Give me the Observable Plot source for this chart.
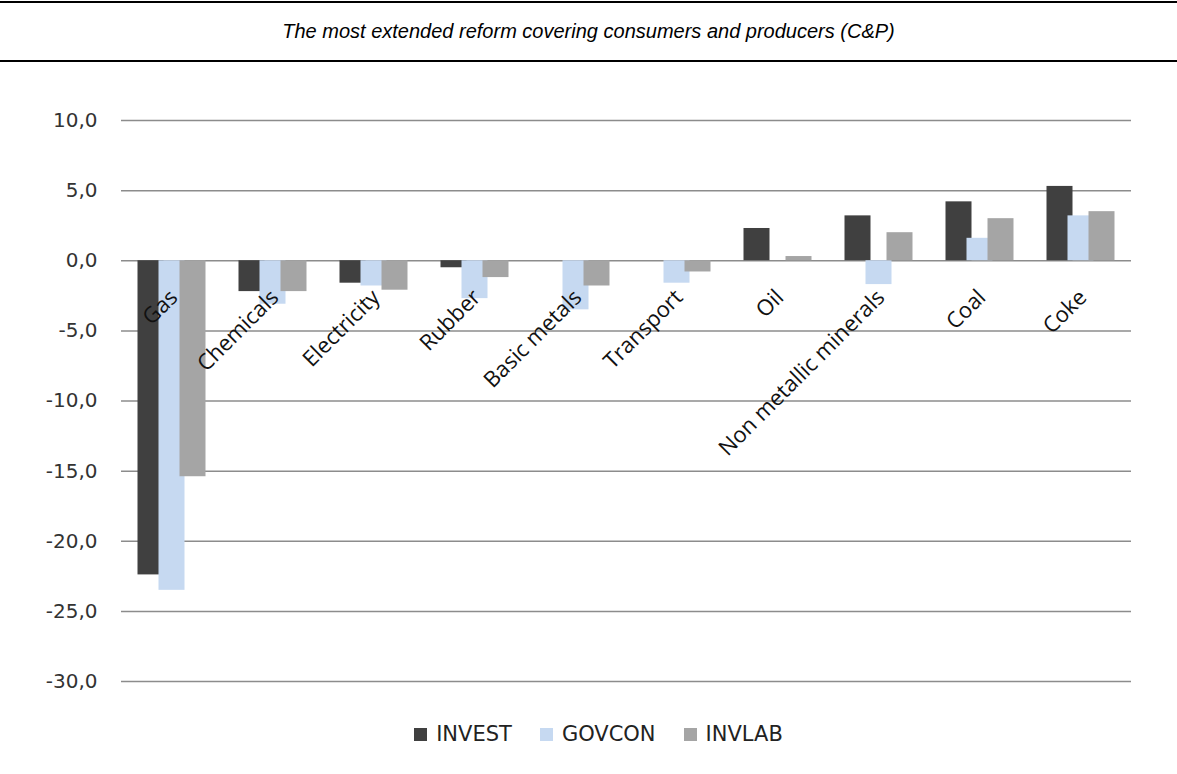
<!DOCTYPE html>
<html><head><meta charset="utf-8">
<script src="https://cdn.jsdelivr.net/npm/d3@7"></script>
<script src="https://cdn.jsdelivr.net/npm/@observablehq/plot@0.6"></script>
<style>
body{margin:0;background:#fff;width:1177px;height:774px;position:relative;overflow:hidden}
#title{position:absolute;left:0;top:1px;width:1177px;height:57px;border-top:2px solid #000;border-bottom:2px solid #000;font:italic 20px "Liberation Sans",Arial,sans-serif;text-align:center;line-height:57px;color:#000}
#chart{position:absolute;left:0;top:64px}
#legend{position:absolute;top:722px;left:0;width:1177px;box-sizing:border-box;padding-left:20px;text-align:center;font:21px "DejaVu Sans",sans-serif;color:#222;white-space:nowrap}
#legend span.item{display:inline-block;margin:0 14px}
#legend span.sw{display:inline-block;width:13px;height:13px;margin-right:9px;vertical-align:0px}
</style></head>
<body>
<div id="title">The most extended reform covering consumers and producers (C&amp;P)</div>
<div id="chart"></div>
<div id="legend"></div>
<script>
const categories = ["Gas","Chemicals","Electricity","Rubber","Basic metals","Transport","Oil","Non metallic minerals","Coal","Coke"];
const series = ["INVEST","GOVCON","INVLAB"];
const invest = [-22.4,-2.2,-1.6,-0.5,0,0,2.3,3.2,4.2,5.3];
const govcon = [-23.5,-3.1,-1.8,-2.7,-3.5,-1.6,0,-1.7,1.6,3.2];
const invlab = [-15.4,-2.2,-2.1,-1.2,-1.8,-0.8,0.3,2.0,3.0,3.5];
const colors = ["#404040","#c6d9f1","#a5a5a5"];
const yTicks = [10,5,0,-5,-10,-15,-20,-25,-30];

const values = [invest, govcon, invlab];
const rows = [];
categories.forEach((c, i) => series.forEach((s, j) => rows.push({category: c, series: s, value: values[j][i]})));

const chart = Plot.plot({
  width: 1177, height: 640,
  marginTop: 56, marginBottom: 23, marginLeft: 117, marginRight: 42,
  style: {fontFamily: "DejaVu Sans", fontSize: "20px", color: "#333", background: "#fff"},
  fx: {domain: categories, padding: 0, axis: null},
  x: {domain: series, paddingInner: 0, paddingOuter: 0.81, axis: null},
  y: {domain: [-30, 10], ticks: yTicks, tickFormat: d => d.toFixed(1).replace(".", ","), tickSize: 0, tickPadding: 24, label: null},
  color: {domain: series, range: colors},
  marks: [
    Plot.ruleY(yTicks, {stroke: "#8c8c8c", strokeWidth: 1.5}),
    Plot.barY(rows, {fx: "category", x: "series", y: "value", fill: "series", insetLeft: -2.5, insetRight: -2.5}),
    Plot.text(categories, {fx: d => d, x: () => "GOVCON", y: () => 0, text: d => d, rotate: -45, textAnchor: "end", dx: 2, dy: 33, fontSize: 22, fontFamily: "Open Sans", fill: "#111"})
  ]
});
document.getElementById("chart").appendChild(chart);

const lg = document.getElementById("legend");
series.forEach((s, i) => {
  const it = document.createElement("span"); it.className = "item";
  const sw = document.createElement("span"); sw.className = "sw"; sw.style.background = colors[i];
  it.appendChild(sw); it.appendChild(document.createTextNode(s));
  lg.appendChild(it);
});
</script>
</body></html>
